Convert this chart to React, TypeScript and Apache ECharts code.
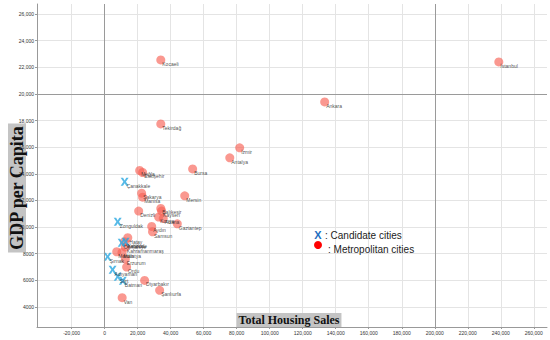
import React, { useEffect, useRef } from "react";
import * as echarts from "echarts";

const metroNames = [
  "İstanbul", "Kocaeli", "Ankara", "Tekirdağ", "İzmir", "Antalya", "Bursa", "Muğla", "Eskişehir", "Mersin",
  "Sakarya", "Manisa", "Denizli", "Balıkesir", "Kayseri", "Konya", "Adana", "Gaziantep", "Aydın", "Samsun",
  "Trabzon", "Hatay", "Kahramanmaraş", "Malatya", "Mardin", "Erzurum", "Ordu", "Diyarbakır", "Şanlıurfa", "Van",
];
const metroX = [
  238800, 34000, 133300, 34000, 81800, 75800, 53300, 21200, 23000, 48500,
  22400, 23000, 20600, 34000, 34500, 32700, 35500, 44000, 28500, 29000,
  12000, 14000, 12500, 10500, 7300, 12500, 13300, 24200, 33300, 10600,
];
const metroY = [
  22400, 22550, 19400, 17750, 15950, 15200, 14370, 14250, 14100, 12350,
  12550, 12250, 11200, 11400, 11200, 10750, 10650, 10250, 10050, 9650,
  8900, 9200, 8500, 8100, 8150, 7600, 7000, 6000, 5250, 4700,
];

const candNames = ["Çanakkale", "Zonguldak", "Osmaniye", "Kırıkkale", "Şırnak", "Adıyaman", "Siirt", "Batman"];
const candX = [12100, 7900, 10300, 12700, 1800, 4800, 7900, 11000];
const candY = [13400, 10400, 8825, 8900, 7775, 6800, 6275, 5975];

const xTicks = [-20000, 0, 20000, 40000, 60000, 80000, 100000, 120000, 140000, 160000, 180000, 200000, 220000, 240000, 260000];
const yTicks = [4000, 6000, 8000, 10000, 12000, 14000, 16000, 18000, 20000, 22000, 24000, 26000];
const refX = [0, 200000];
const refY = [20000];

const fmt = (v: number) => {
  const s = Math.abs(v).toString().replace(/\B(?=(\d{3})+(?!\d))/g, ",");
  return (v < 0 ? "-" : "") + s;
};

export default function App() {
  const ref = useRef<HTMLDivElement>(null);
  useEffect(() => {
    const chart = echarts.init(ref.current!, null, { renderer: "svg" });
    const labelCommon = {
      show: true,
      formatter: "{b}",
      position: [6, 6] as any,
      align: "left",
      verticalAlign: "top",
      fontSize: 5,
      color: "#222",
      fontFamily: "Liberation Sans",
    };
    const xPath = "path://M0,0 L3,0 L5,3.3 L7,0 L10,0 L6.6,5 L10,10 L7,10 L5,6.7 L3,10 L0,10 L3.4,5 Z";
    chart.setOption({
      animation: false,
      backgroundColor: "#fff",
      grid: { left: 37, right: 3, top: 4, bottom: 13, containLabel: false },
      xAxis: {
        type: "value",
        min: -41000,
        max: 268000,
        axisLine: { show: true, onZero: false, lineStyle: { color: "#999", width: 1 } },
        axisTick: { show: true, length: 2, customValues: xTicks, lineStyle: { color: "#999" } },
        axisLabel: {
          customValues: xTicks,
          formatter: (v: number) => fmt(v),
          fontSize: 5,
          color: "#333",
          margin: 3,
          fontFamily: "Liberation Sans",
        },
        splitLine: { show: true, lineStyle: { color: "#e4e4e4", width: 1 } },
      },
      yAxis: {
        type: "value",
        min: 2500,
        max: 26750,
        axisLine: { show: true, onZero: false, lineStyle: { color: "#999", width: 1 } },
        axisTick: { show: true, length: 2, customValues: yTicks, lineStyle: { color: "#999" } },
        axisLabel: {
          customValues: yTicks,
          formatter: (v: number) => (v >= 10000 ? fmt(v) : String(v)),
          fontSize: 5,
          color: "#333",
          margin: 3,
          fontFamily: "Liberation Sans",
        },
        splitLine: { show: true, lineStyle: { color: "#e4e4e4", width: 1 } },
      },
      series: [
        {
          type: "scatter",
          name: "Metropolitan cities",
          symbol: "circle",
          symbolSize: 9,
          itemStyle: { color: "rgba(248,98,86,0.82)" },
          label: labelCommon,
          data: metroX.map((x, i) => ({ value: [x, metroY[i]], name: metroNames[i] })),
          markLine: {
            silent: true,
            symbol: "none",
            label: { show: false },
            lineStyle: { color: "#9a9a9a", type: "solid", width: 1 },
            data: [...refX.map((v) => ({ xAxis: v })), ...refY.map((v) => ({ yAxis: v }))],
          },
          z: 2,
        },
        {
          type: "scatter",
          name: "Candidate cities",
          symbol: xPath,
          symbolSize: 8,
          itemStyle: { color: "#2aa7e1" },
          label: labelCommon,
          data: candX.map((x, i) => ({ value: [x, candY[i]], name: candNames[i] })),
          z: 3,
        },
      ],
      graphic: [
        {
          type: "text",
          x: 17,
          y: 188,
          rotation: Math.PI / 2,
          style: {
            text: "GDP per Capita",
            font: "bold 18px 'Liberation Serif'",
            fill: "#111",
            align: "center",
            verticalAlign: "middle",
            backgroundColor: "#c4c4c4",
            padding: [0, 2, 0, 2],
          },
        },
        {
          type: "text",
          x: 289,
          y: 320,
          style: {
            text: "Total Housing Sales",
            font: "bold 12px 'Liberation Serif'",
            fill: "#111",
            align: "center",
            verticalAlign: "middle",
            backgroundColor: "#c4c4c4",
            padding: [1, 2, 1, 2],
          },
          z: 10,
        },
        {
          type: "text",
          x: 318,
          y: 235,
          style: {
            text: "X",
            font: "bold 11px 'Liberation Sans'",
            fill: "#1f6fc0",
            align: "center",
            verticalAlign: "middle",
          },
          z: 10,
        },
        {
          type: "text",
          x: 325,
          y: 235,
          style: {
            text: ": Candidate cities",
            font: "10px 'Liberation Sans'",
            fill: "#222",
            align: "left",
            verticalAlign: "middle",
          },
          z: 10,
        },
        {
          type: "circle",
          shape: { cx: 318, cy: 245, r: 4 },
          style: { fill: "#ff0000" },
          z: 10,
        },
        {
          type: "text",
          x: 328,
          y: 249,
          style: {
            text: ": Metropolitan cities",
            font: "10px 'Liberation Sans'",
            fill: "#222",
            align: "left",
            verticalAlign: "middle",
          },
          z: 10,
        },
      ],
    });
    return () => chart.dispose();
  }, []);
  return <div ref={ref} style={{ position: "fixed", left: 0, top: 0, width: 550, height: 340 }} />;
}
